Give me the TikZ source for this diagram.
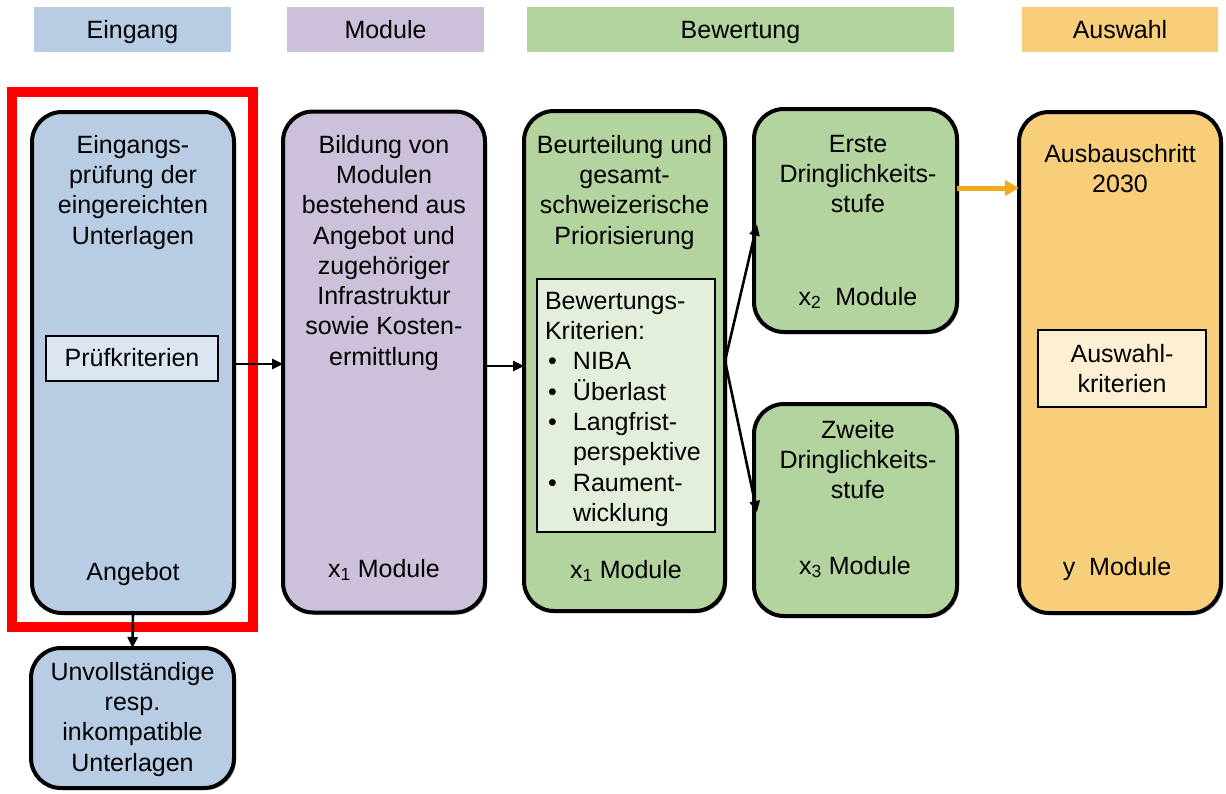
\documentclass[tikz,border=0pt]{standalone}
\usepackage{fontspec}
\setmainfont{Liberation Sans}
\usetikzlibrary{arrows.meta,shadows,calc}
\definecolor{cblue}{RGB}{184,204,228}
\definecolor{cblueL}{RGB}{220,230,242}
\definecolor{cpurple}{RGB}{204,192,218}
\definecolor{cgreen}{RGB}{179,212,158}
\definecolor{cgreenL}{RGB}{227,239,218}
\definecolor{cyellow}{RGB}{247,206,122}
\definecolor{cyellowL}{RGB}{253,239,211}
\definecolor{corange}{RGB}{240,170,30}
\begin{document}
\begin{tikzpicture}[x=1pt,y=-1pt,
  every node/.style={inner sep=0pt,outer sep=0pt},
  txt/.style={font=\fontsize{25}{30.3}\selectfont,align=center},
  header/.style={minimum height=45pt},
  bigbox/.style={draw=black,line width=4pt,rounded corners=30pt,
    drop shadow={shadow xshift=2pt,shadow yshift=-2pt,opacity=0.55,fill=black!70}},
  innerbox/.style={draw=black,line width=1.3pt},
  conn/.style={draw=black,line width=2.6pt,-{Triangle[length=11pt,width=10pt]}},
  oconn/.style={draw=corange,line width=5pt,-{Triangle[length=14pt,width=15pt]}}
]
\useasboundingbox (0,0) rectangle (1226,793);
% headers
\node[header,fill=cblue,minimum width=197pt] (h1) at (132.5,29.5) {};
\node[header,fill=cpurple,minimum width=197pt] (h2) at (385.5,29.5) {};
\node[header,fill=cgreen,minimum width=427pt] (h3) at (740.5,29.5) {};
\node[header,fill=cyellow,minimum width=196pt] (h4) at (1120,29.5) {};
\node[txt,anchor=base] (h1t) at (132.5,38) {Eingang};
\node[txt,anchor=base] (h2t) at (385.5,38) {Module};
\node[txt,anchor=base] (h3t) at (740.5,38) {Bewertung};
\node[txt,anchor=base] (h4t) at (1120,38) {Auswahl};
% red frame
\node[draw=red,line width=10pt,minimum width=241pt,minimum height=535pt] (frame) at (132.5,359.5) {};
% big boxes
\node[bigbox,fill=cblue,minimum width=202pt,minimum height=501pt] (ein) at (133,362.5) {};
\node[bigbox,fill=cpurple,minimum width=202pt,minimum height=501pt] (mod) at (384,362) {};
\node[bigbox,fill=cgreen,minimum width=201pt,minimum height=500pt] (bew) at (624.5,361) {};
\node[bigbox,fill=cgreen,minimum width=203pt,minimum height=223pt] (erste) at (855.5,220.5) {};
\node[bigbox,fill=cgreen,minimum width=203pt,minimum height=212pt] (zweite) at (855.5,510) {};
\node[bigbox,fill=cyellow,minimum width=202pt,minimum height=501pt] (aus) at (1120,362.5) {};
\node[bigbox,fill=cblue,minimum width=203pt,minimum height=140pt] (unv) at (132.5,718) {};
% inner boxes
\node[innerbox,fill=cblueL,minimum width=172pt,minimum height=45pt] (pk) at (132,358.5) {};
\node[innerbox,fill=cgreenL,minimum width=178pt,minimum height=253pt] (bk) at (626,405.5) {};
\node[innerbox,fill=cyellowL,minimum width=168pt,minimum height=77pt] (ak) at (1122,368.5) {};
% texts
\node[txt,anchor=north] (einT) at (133,135) {Eingangs-\\prüfung der\\eingereichten\\Unterlagen};
\node[txt,anchor=base] (einB) at (133,580) {Angebot};
\node[txt,anchor=base] (pkT) at (132,366) {Prüfkriterien};
\node[txt,anchor=north] (modT) at (384,135) {Bildung von\\Modulen\\bestehend aus\\Angebot und\\zugehöriger\\Infrastruktur\\sowie Kosten-\\ermittlung};
\node[txt,anchor=base] (modB) at (384,577) {x\textsubscript{1} Module};
\node[txt,anchor=north] (bewT) at (624.5,135) {Beurteilung und\\gesamt-\\schweizerische\\Priorisierung};
\node[txt,anchor=base] (bewB) at (626,578) {x\textsubscript{1} Module};
\node[txt,align=left,anchor=north west] (bkT) at (545,292) {Bewertungs-\\Kriterien:\\
\makebox[28pt][l]{\hspace{3pt}•}NIBA\\
\makebox[28pt][l]{\hspace{3pt}•}Überlast\\
\makebox[28pt][l]{\hspace{3pt}•}Langfrist-\\
\hspace*{28pt}perspektive\\
\makebox[28pt][l]{\hspace{3pt}•}Raument-\\
\hspace*{28pt}wicklung};
\node[txt,anchor=north] (ersteT) at (858,135) {Erste\\Dringlichkeits-\\stufe};
\node[txt,anchor=base] (ersteB) at (858,305) {x\textsubscript{2}\ \ Module};
\node[txt,anchor=north] (zweiteT) at (858,420) {Zweite\\Dringlichkeits-\\stufe};
\node[txt,anchor=base] (zweiteB) at (855,574) {x\textsubscript{3} Module};
\node[txt,anchor=north] (ausT) at (1120,144) {Ausbauschritt\\2030};
\node[txt,anchor=north] (akT) at (1122,344) {Auswahl-\\kriterien};
\node[txt,anchor=base] (ausB) at (1117,575) {y\ \ Module};
\node[txt,anchor=north] (unvT) at (132.5,662) {Unvollständige\\resp.\\inkompatible\\Unterlagen};
% connectors
\draw[conn] (ein.east |- 0,364) -- (mod.west |- 0,364);
\draw[conn] (mod.east |- 0,366) -- (bew.west |- 0,366);
\draw[conn] (bew.east) -- ($(erste.west)+(3,4)$);
\draw[conn] (bew.east) -- ($(zweite.west)+(3,2)$);
\draw[oconn] (erste.east |- 0,188) -- (aus.west |- 0,188);
\draw[conn] (ein.south) -- (unv.north);
\end{tikzpicture}
\end{document}
